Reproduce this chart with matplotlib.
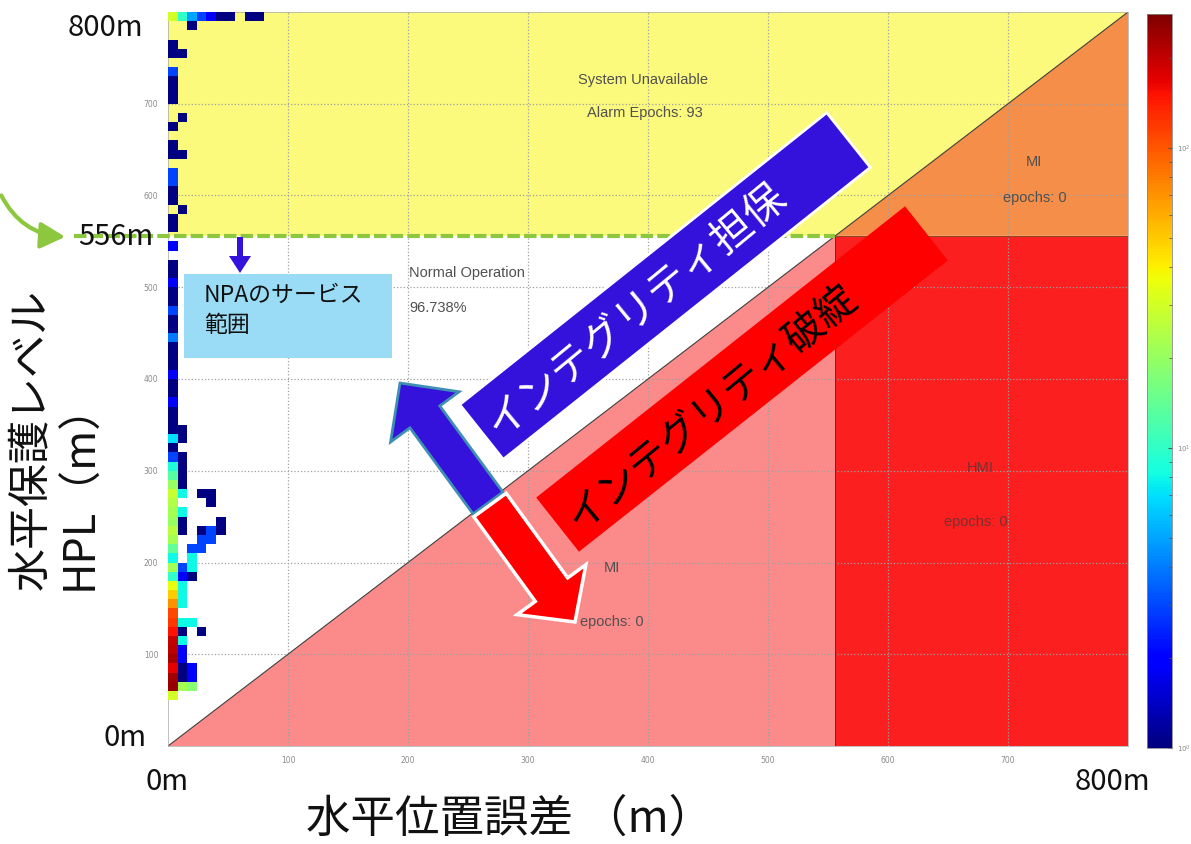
import numpy as np
import matplotlib
matplotlib.use("Agg")
import matplotlib.pyplot as plt
from matplotlib.colors import LogNorm
from matplotlib.patches import Polygon, Rectangle, FancyArrow, FancyArrowPatch

JP = ['Noto Sans CJK JP', 'DejaVu Sans']
SMALL = ['Liberation Sans', 'DejaVu Sans']

# ---- axis range, alert limit and histogram bins (m) ----
axis_max = 800
alert_limit = 556
bin_x = 8
bin_y = 10
tick_values = [100, 200, 300, 400, 500, 600, 700]

# epochs in the first HPE bin (0-8 m), one value per 10 m HPL bin, from 0 m upward
col0_counts = [
    0, 0, 0, 0, 0, 30, 250, 240, 170, 230,
    210, 200, 150, 120, 110, 70, 50, 35, 10, 22,
    8, 14, 22, 25, 20, 22, 24, 28, 20, 13,
    9, 3, 1, 7, 1, 1, 1, 2, 1, 1,
    2, 1, 1, 1, 4, 1, 1, 3, 1, 1,
    2, 1, 1, 0, 2, 0, 1, 1, 0, 1,
    1, 3, 3, 0, 1, 1, 0, 1, 0, 0,
    1, 1, 1, 3, 0, 1, 1, 0, 0, 30,
]

# remaining occupied bins: HPE bin index, HPL bin index, epoch count
cell_col = [1, 2, 1, 2, 1, 2, 1, 1, 1, 1, 3, 1, 2, 1, 1, 1, 1, 2, 1, 2,
            2, 2, 3, 3, 4, 3, 4, 5, 1, 1, 5, 1, 4, 1, 3, 4, 1, 1, 1, 1,
            1, 1, 1, 1, 1, 1, 1, 2, 2, 3, 4, 5, 6, 8, 9]
cell_row = [6, 6, 7, 7, 8, 8, 9, 10, 11, 12, 12, 13, 13, 15, 16, 17, 18, 18, 19, 19,
            20, 21, 21, 22, 22, 23, 23, 23, 23, 24, 24, 25, 26, 27, 27, 27, 28, 29, 30, 31,
            33, 34, 58, 64, 68, 75, 79, 79, 78, 79, 79, 79, 79, 79, 79]
cell_count = [22, 18, 1, 2, 1, 2, 2, 2, 8, 1, 1, 8, 8, 8, 8, 8, 2, 1, 3, 8,
              8, 3, 3, 3, 3, 1, 3, 1, 1, 1, 1, 8, 1, 8, 1, 1, 1, 1, 1, 1,
              1, 1, 1, 1, 1, 1, 10, 5, 1, 3, 2, 1, 1, 1, 1]

count_max = 280

# region colours
c_unavail = '#FCFA7C'
c_mi_upper = '#F58E48'
c_hmi = '#FB1F1F'
c_mi_lower = '#FB8A8A'
c_green = '#8DC63F'
c_blue = '#3512DB'
c_red = '#FF0000'

fig = plt.figure(figsize=(11.91, 8.44), dpi=100)
W, Hh = 1191.0, 844.0
ax = fig.add_axes([168 / W, 98 / Hh, 960 / W, 734 / Hh])
cax = fig.add_axes([1147 / W, 96 / Hh, 25 / W, 734 / Hh])

ax.set_xlim(0, axis_max)
ax.set_ylim(0, axis_max)

# Stanford-diagram regions
ax.add_patch(Polygon([(0, alert_limit), (alert_limit, alert_limit), (axis_max, axis_max), (0, axis_max)],
                     fc=c_unavail, ec='none', zorder=0))
ax.add_patch(Polygon([(alert_limit, alert_limit), (axis_max, axis_max), (axis_max, alert_limit)],
                     fc=c_mi_upper, ec='none', zorder=0))
ax.add_patch(Polygon([(alert_limit, 0), (axis_max, 0), (axis_max, alert_limit), (alert_limit, alert_limit)],
                     fc=c_hmi, ec='none', zorder=0))
ax.add_patch(Polygon([(0, 0), (alert_limit, 0), (alert_limit, alert_limit)],
                     fc=c_mi_lower, ec='none', zorder=0))

ax.set_axisbelow(True)
ax.set_xticks(tick_values)
ax.set_yticks(tick_values)
ax.grid(True, ls=':', color='#a0a0a0', lw=0.9)
ax.tick_params(length=0, labelsize=5.5, labelcolor='#8a8a8a', pad=7)
for s in ax.spines.values():
    s.set_color('#a8a8a8')
    s.set_linewidth(0.5)

ax.plot([0, axis_max], [0, axis_max], color='#404040', lw=0.8, zorder=2)
ax.plot([alert_limit, alert_limit], [0, alert_limit], color='#6a2a2a', lw=0.7, zorder=2)
ax.plot([alert_limit, axis_max], [alert_limit, alert_limit], color='#8a4a2a', lw=0.7, zorder=2)

# 2-D histogram of epochs
grid_counts = np.zeros((axis_max // bin_y, axis_max // bin_x))
grid_counts[:, 0] = col0_counts
for c, r, n in zip(cell_col, cell_row, cell_count):
    grid_counts[r, c] = n
xedges = np.arange(0, axis_max + bin_x, bin_x)
yedges = np.arange(0, axis_max + bin_y, bin_y)
mesh = ax.pcolormesh(xedges, yedges, np.ma.masked_equal(grid_counts, 0), cmap='jet',
                     norm=LogNorm(vmin=1, vmax=count_max), zorder=3)

cb = fig.colorbar(mesh, cax=cax, ticks=[1, 10, 100])
cb.ax.set_yticklabels(['10$^0$', '10$^1$', '10$^2$'])
cb.ax.tick_params(labelsize=5, labelcolor='#8a8a8a', direction='in', length=3, color='#555555')
cb.ax.tick_params(which='minor', direction='in', length=2, color='#555555')
cb.outline.set_edgecolor('#888888')
cb.outline.set_linewidth(0.6)

# region summaries
txt = dict(ha='center', va='center', fontsize=10.5, color='#505050', family=SMALL, zorder=4)
ax.text(396, 726, 'System Unavailable', **txt)
ax.text(397, 690, 'Alarm Epochs: 93', **txt)
ax.text(722, 636, 'MI', **txt)
ax.text(722, 597, 'epochs: 0', **txt)
ax.text(677, 303, 'HMI', **dict(txt, color='#7a3030'))
ax.text(673, 244, 'epochs: 0', **dict(txt, color='#7a3030'))
ax.text(370, 194, 'MI', **txt)
ax.text(370, 135, 'epochs: 0', **txt)
ax.text(201, 516, 'Normal Operation', **dict(txt, ha='left'))
ax.text(201, 477, '96.738%', **dict(txt, ha='left'))

# alert-limit line
ax.plot([-78, alert_limit], [alert_limit, alert_limit], color=c_green, lw=3,
        ls=(0, (3, 1)), clip_on=False, zorder=4)

# ---- annotation layer in pixel coordinates ----
ov = fig.add_axes([0, 0, 1, 1], zorder=5)
ov.set_xlim(0, W)
ov.set_ylim(Hh, 0)
ov.axis('off')
ov.patch.set_alpha(0)


def rot_rect(cx, cy, length, width, angle_deg):
    a = np.deg2rad(angle_deg)
    u = np.array([np.cos(a), -np.sin(a)])
    v = np.array([np.sin(a), np.cos(a)])
    c = np.array([cx, cy])
    return [c - u * length / 2 - v * width / 2, c + u * length / 2 - v * width / 2,
            c + u * length / 2 + v * width / 2, c - u * length / 2 + v * width / 2]


# NPA service range box
ov.add_patch(Rectangle((184, 274), 208, 84, fc='#9ADCF6', ec='none'))
ov.text(204, 284, 'NPAのサービス\n範囲', ha='left', va='top', fontsize=16.5,
        linespacing=1.4, family=JP, color='#111111')
ov.add_patch(FancyArrow(240, 237, 0, 36, width=6, head_width=22, head_length=17,
                        length_includes_head=True, fc=c_blue, ec='none'))

# integrity-assured arrow and bar
ov.add_patch(FancyArrow(488, 503, -88, -120, width=37, head_width=85, head_length=42,
                        length_includes_head=True, fc=c_blue, ec='#3F8FB5', lw=2))
ov.add_patch(Polygon(rot_rect(665, 286, 469, 70, 38.5), closed=True, fc=c_blue, ec='white', lw=2))
ov.text(637, 310, 'インテグリティ担保', rotation=39.5, ha='center', va='center',
        fontsize=30, color='white', family=JP, rotation_mode='anchor')

# integrity-failure arrow and bar
ov.add_patch(FancyArrow(490, 505, 85, 117, width=40, head_width=85, head_length=40,
                        length_includes_head=True, fc=c_red, ec='white', lw=2.5))
ov.add_patch(Polygon(rot_rect(742, 379, 470, 69, 38.3), closed=True, fc=c_red, ec='none'))
ov.text(712, 408, 'インテグリティ破綻', rotation=39.5, ha='center', va='center',
        fontsize=29, color='black', family=JP, rotation_mode='anchor')

# curved pointer to the alert limit
ov.add_patch(FancyArrowPatch((0, 193), (68, 237), connectionstyle='arc3,rad=0.3',
                             arrowstyle='-|>,head_length=1.5,head_width=0.8',
                             mutation_scale=10, lw=3, color=c_green))

# axis end labels
big = dict(ha='center', va='center', fontsize=21, family=JP, color='#111111')
ov.text(105, 28, '800m', **big)
ov.text(116, 237, '556m', **big)
ov.text(125, 738, '0m', **big)
ov.text(167, 782, '0m', **big)
ov.text(1112, 782, '800m', **big)

ov.text(56, 590, '水平保護レベル\nHPL（m）', rotation=90, ha='center', va='bottom',
        multialignment='left', fontsize=31, linespacing=1.15, family=JP, color='#111111')
ov.text(510, 819, '水平位置誤差 （m）', ha='center', va='center', fontsize=32,
        family=JP, color='#111111')

fig.savefig('out.png', dpi=100)
